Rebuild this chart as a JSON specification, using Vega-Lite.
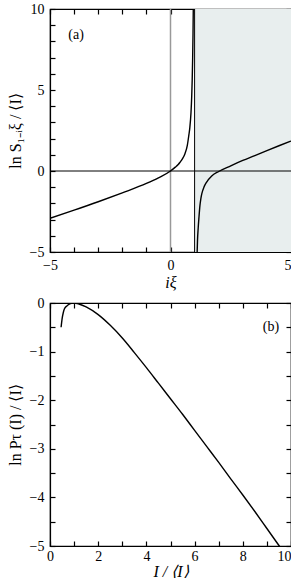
{
  "$schema": "https://vega.github.io/schema/vega-lite/v6.json",
  "background": "white",
  "padding": {"left": 6, "top": 1, "right": 2, "bottom": 0},
  "spacing": 4,
  "config": {
    "view": {"stroke": "black", "strokeWidth": 1.2},
    "font": "Liberation Serif",
    "axis": {
      "domainColor": "black",
      "domainWidth": 1.2,
      "tickColor": "black",
      "tickSize": 5,
      "tickWidth": 1.2,
      "labelFont": "Liberation Serif",
      "labelFontSize": 14,
      "labelColor": "black",
      "labelOverlap": false,
      "labelFlush": false,
      "titleFont": "Liberation Serif",
      "titleFontWeight": "normal",
      "titleFontSize": 16,
      "titleColor": "black",
      "grid": false,
      "format": "d",
      "zindex": 1
    }
  },
  "vconcat": [
    {
      "width": 241,
      "height": 243,
      "layer": [
        {
          "data": {"values": [{"x0": 1, "x1": 5, "y0": -5, "y1": 10}]},
          "mark": {"type": "rect", "color": "#e8eeee"},
          "encoding": {
            "x": {"field": "x0", "type": "quantitative", "scale": {"domain": [-5, 5], "nice": false, "zero": false},
              "axis": {"orient": "bottom", "offset": -243, "labels": false, "ticks": true, "domain": true, "title": null, "values": [-5,-4,-3,-2,-1,0,1,2,3,4,5]}},
            "x2": {"field": "x1"},
            "y": {"field": "y0", "type": "quantitative", "scale": {"domain": [-5, 10], "nice": false, "zero": false},
              "axis": {"orient": "left", "offset": -241, "labels": false, "ticks": true, "domain": true, "title": null, "values": [-5,-4,-3,-2,-1,0,1,2,3,4,5,6,7,8,9,10]}},
            "y2": {"field": "y1"}
          }
        },
        {
          "data": {"values": [{"v": 0}]},
          "mark": {"type": "rule", "color": "#999999", "strokeWidth": 1.5},
          "encoding": {"x": {"field": "v", "type": "quantitative",
            "axis": {"orient": "top", "offset": -243, "labels": false, "ticks": true, "domain": false, "title": null, "values": [-5,-4,-3,-2,-1,0,1,2,3,4,5]}}}
        },
        {
          "data": {"values": [{"v": 1}]},
          "mark": {"type": "rule", "color": "black", "strokeWidth": 1},
          "encoding": {"x": {"field": "v", "type": "quantitative", "axis": null}}
        },
        {
          "data": {"values": [{"v": 0}]},
          "mark": {"type": "rule", "color": "black", "strokeWidth": 1},
          "encoding": {"y": {"field": "v", "type": "quantitative",
            "axis": {"orient": "right", "offset": -241, "labels": false, "ticks": true, "domain": false, "title": null, "values": [-5,-4,-3,-2,-1,0,1,2,3,4,5,6,7,8,9,10]}}}
        },
        {
          "data": {"values": [
            {"ixi": -5, "lnS": -2.92, "branch": "L"},
            {"ixi": -4, "lnS": -2.42, "branch": "L"},
            {"ixi": -3, "lnS": -1.9, "branch": "L"},
            {"ixi": -2, "lnS": -1.35, "branch": "L"},
            {"ixi": -1, "lnS": -0.77, "branch": "L"},
            {"ixi": -0.5, "lnS": -0.42, "branch": "L"},
            {"ixi": 0, "lnS": 0, "branch": "L"},
            {"ixi": 0.2, "lnS": 0.24, "branch": "L"},
            {"ixi": 0.32, "lnS": 0.4, "branch": "L"},
            {"ixi": 0.4, "lnS": 0.55, "branch": "L"},
            {"ixi": 0.5, "lnS": 0.76, "branch": "L"},
            {"ixi": 0.6, "lnS": 1.07, "branch": "L"},
            {"ixi": 0.7, "lnS": 1.6, "branch": "L"},
            {"ixi": 0.76, "lnS": 2.2, "branch": "L"},
            {"ixi": 0.8, "lnS": 2.65, "branch": "L"},
            {"ixi": 0.85, "lnS": 3.6, "branch": "L"},
            {"ixi": 0.88, "lnS": 4.6, "branch": "L"},
            {"ixi": 0.9, "lnS": 5.6, "branch": "L"},
            {"ixi": 0.92, "lnS": 7.0, "branch": "L"},
            {"ixi": 0.935, "lnS": 8.5, "branch": "L"},
            {"ixi": 0.95, "lnS": 10.6, "branch": "L"},
            {"ixi": 1.1, "lnS": -5.3, "branch": "R"},
            {"ixi": 1.12, "lnS": -4.3, "branch": "R"},
            {"ixi": 1.15, "lnS": -3.5, "branch": "R"},
            {"ixi": 1.18, "lnS": -2.88, "branch": "R"},
            {"ixi": 1.22, "lnS": -2.15, "branch": "R"},
            {"ixi": 1.26, "lnS": -1.7, "branch": "R"},
            {"ixi": 1.3, "lnS": -1.4, "branch": "R"},
            {"ixi": 1.4, "lnS": -0.95, "branch": "R"},
            {"ixi": 1.5, "lnS": -0.68, "branch": "R"},
            {"ixi": 1.7, "lnS": -0.32, "branch": "R"},
            {"ixi": 2.0, "lnS": -0.03, "branch": "R"},
            {"ixi": 2.5, "lnS": 0.32, "branch": "R"},
            {"ixi": 3.0, "lnS": 0.65, "branch": "R"},
            {"ixi": 3.5, "lnS": 0.95, "branch": "R"},
            {"ixi": 4.0, "lnS": 1.26, "branch": "R"},
            {"ixi": 4.5, "lnS": 1.56, "branch": "R"},
            {"ixi": 5.0, "lnS": 1.85, "branch": "R"}
          ]},
          "mark": {"type": "line", "color": "black", "strokeWidth": 1.4, "clip": true, "interpolate": "monotone"},
          "encoding": {
            "x": {"field": "ixi", "type": "quantitative",
              "axis": {"orient": "bottom", "ticks": false, "title": "iξ", "titleFontStyle": "italic", "titlePadding": 2, "labelPadding": 6,
                "values": [-5,0,5],
                "labelAlign": {"condition": {"test": "datum.value == 5", "value": "right"}, "value": "center"}}},
            "y": {"field": "lnS", "type": "quantitative",
              "axis": {"orient": "left", "ticks": false, "title": "ln S₁₋ᵢξ / ⟨I⟩", "titlePadding": 6, "labelPadding": 6,
                "values": [-5,0,5,10]}},
            "detail": {"field": "branch"}
          }
        },
        {
          "data": {"values": [{"x": -3.92, "y": 8.4, "t": "(a)"}]},
          "mark": {"type": "text", "font": "Liberation Serif", "fontSize": 14, "color": "black", "align": "center", "baseline": "middle"},
          "encoding": {
            "x": {"field": "x", "type": "quantitative", "axis": null},
            "y": {"field": "y", "type": "quantitative", "axis": null},
            "text": {"field": "t"}
          }
        }
      ],
      "resolve": {"axis": {"x": "independent", "y": "independent"}}
    },
    {
      "width": 241,
      "height": 243,
      "layer": [
        {
          "data": {"values": [
            {"I": 0.46, "lnP": -0.5},
            {"I": 0.5, "lnP": -0.33},
            {"I": 0.55, "lnP": -0.2},
            {"I": 0.6, "lnP": -0.12},
            {"I": 0.7, "lnP": -0.06},
            {"I": 0.8, "lnP": -0.025},
            {"I": 0.9, "lnP": -0.006},
            {"I": 1.0, "lnP": 0},
            {"I": 1.2, "lnP": -0.02},
            {"I": 1.5, "lnP": -0.08},
            {"I": 2.0, "lnP": -0.24},
            {"I": 2.5, "lnP": -0.46},
            {"I": 3.0, "lnP": -0.72},
            {"I": 3.5, "lnP": -1.02},
            {"I": 4.0, "lnP": -1.33},
            {"I": 4.5, "lnP": -1.65},
            {"I": 5.0, "lnP": -1.97},
            {"I": 5.5, "lnP": -2.29},
            {"I": 6.0, "lnP": -2.62},
            {"I": 6.5, "lnP": -2.95},
            {"I": 7.0, "lnP": -3.28},
            {"I": 7.5, "lnP": -3.62},
            {"I": 8.0, "lnP": -3.95},
            {"I": 8.5, "lnP": -4.29},
            {"I": 9.0, "lnP": -4.64},
            {"I": 9.5, "lnP": -4.99},
            {"I": 9.6, "lnP": -5.06}
          ]},
          "mark": {"type": "line", "color": "black", "strokeWidth": 1.4, "clip": true, "interpolate": "monotone"},
          "encoding": {
            "x": {"field": "I", "type": "quantitative", "scale": {"domain": [0, 10], "nice": false, "zero": false},
              "axis": {"orient": "bottom", "ticks": false, "title": "I / ⟨I⟩", "titleFontStyle": "italic", "titlePadding": 0, "labelPadding": 3,
                "values": [0,2,4,6,8,10],
                "labelAlign": {"condition": {"test": "datum.value == 10", "value": "right"}, "value": "center"}}},
            "y": {"field": "lnP", "type": "quantitative", "scale": {"domain": [-5, 0], "nice": false, "zero": false},
              "axis": {"orient": "left", "ticks": false, "title": "ln Pτ (I) / ⟨I⟩", "titlePadding": 6, "labelPadding": 6,
                "values": [-5,-4,-3,-2,-1,0]}}
          }
        },
        {
          "data": {"values": [
            {"I": 0.46, "lnP": -0.5},
            {"I": 9.6, "lnP": -5.06}
          ]},
          "mark": {"type": "point", "opacity": 0},
          "encoding": {
            "x": {"field": "I", "type": "quantitative",
              "axis": {"orient": "bottom", "offset": -243, "labels": false, "ticks": true, "domain": true, "title": null, "values": [0,1,2,3,4,5,6,7,8,9,10]}},
            "y": {"field": "lnP", "type": "quantitative",
              "axis": {"orient": "left", "offset": -241, "labels": false, "ticks": true, "domain": true, "title": null, "values": [-5,-4.5,-4,-3.5,-3,-2.5,-2,-1.5,-1,-0.5,0]}}
          }
        },
        {
          "data": {"values": [
            {"I": 0.46, "lnP": -0.5},
            {"I": 9.6, "lnP": -5.06}
          ]},
          "mark": {"type": "point", "opacity": 0},
          "encoding": {
            "x": {"field": "I", "type": "quantitative",
              "axis": {"orient": "top", "offset": -243, "labels": false, "ticks": true, "domain": false, "title": null, "values": [0,1,2,3,4,5,6,7,8,9,10]}},
            "y": {"field": "lnP", "type": "quantitative",
              "axis": {"orient": "right", "offset": -241, "labels": false, "ticks": true, "domain": false, "title": null, "values": [-5,-4.5,-4,-3.5,-3,-2.5,-2,-1.5,-1,-0.5,0]}}
          }
        },
        {
          "data": {"values": [{"x": 9.17, "y": -0.49, "t": "(b)"}]},
          "mark": {"type": "text", "font": "Liberation Serif", "fontSize": 14, "color": "black", "align": "center", "baseline": "middle"},
          "encoding": {
            "x": {"field": "x", "type": "quantitative", "axis": null},
            "y": {"field": "y", "type": "quantitative", "axis": null},
            "text": {"field": "t"}
          }
        }
      ],
      "resolve": {"axis": {"x": "independent", "y": "independent"}}
    }
  ]
}
